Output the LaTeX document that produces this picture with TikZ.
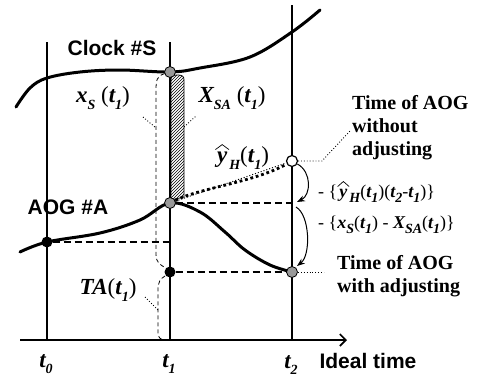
\documentclass[tikz,border=0pt]{standalone}
\usepackage{fontspec}
\setmainfont{Liberation Serif}
\setsansfont{Liberation Sans}
\usetikzlibrary{patterns,arrows.meta}
\newcommand\vi[1]{{\bfseries\itshape #1}}
\newcommand\sbx[1]{\raisebox{-0.3em}{\fontsize{14}{14}\selectfont\bfseries\itshape #1}}
\newcommand\hy{\tikz[baseline=0pt]{\node[inner sep=0pt,anchor=base] (hh) at (0,0) {\vi{y}}; \draw[line width=0.7pt] ([xshift=-1.5pt,yshift=2.5pt]hh.north west) -- ([yshift=7.5pt]hh.north) -- ([xshift=1.5pt,yshift=2.5pt]hh.north east);}}
\begin{document}
\begin{tikzpicture}[x=1pt,y=-1pt,
  vline/.style={line width=1.6pt},
  curve/.style={line width=3pt,line cap=round},
  gdot/.style={circle,draw,fill=black!40,minimum size=11pt,inner sep=0pt,line width=0.8pt},
  bdot/.style={circle,fill=black,minimum size=11pt,inner sep=0pt},
  odot/.style={circle,draw,fill=white,minimum size=11pt,inner sep=0pt,line width=1.2pt},
  hdash/.style={line width=1.3pt,dash pattern=on 7pt off 4pt},
  vdash/.style={line width=0.8pt,dash pattern=on 4pt off 3pt},
  leader/.style={line width=0.9pt,dotted},
  sanslab/.style={font=\sffamily\bfseries\fontsize{21}{24}\selectfont,inner sep=0pt},
  serlab/.style={font=\bfseries\fontsize{20}{23}\selectfont,align=left,inner sep=0pt},
  mathlab/.style={font=\fontsize{23}{25}\selectfont,inner sep=0pt},
  note/.style={font=\fontsize{18}{22}\selectfont,inner sep=0pt},
  arr/.style={line width=1pt,-{Stealth[length=8pt,width=6pt]}}
]
\useasboundingbox (0,0) rectangle (498,378);
% axes coordinates
\coordinate (t0top) at (47,42);
\coordinate (t0bot) at (47,340);
\coordinate (t1top) at (170,42);
\coordinate (t1bot) at (170,340);
\coordinate (t2top) at (292,5);
\coordinate (t2bot) at (292,340);
\coordinate (ax0) at (20,340);
\coordinate (ax1) at (347,340);
\draw[vline] (t0top) -- (t0bot);
\draw[vline] (t1top) -- (t1bot);
\draw[vline] (t2top) -- (t2bot);
\draw[vline,-{Straight Barb[length=6pt,width=12pt]}] (ax0) -- (ax1);

% curves
\draw[curve] plot[smooth,tension=0.6] coordinates {(16,107) (30,88) (47,78) (80,72) (120,70) (170,72) (200,68) (250,57) (292,32) (320,10)};
\draw[curve] plot[smooth,tension=0.6] coordinates {(20,252) (47,242) (100,233) (140,220) (170,203) (200,212) (225,232) (245,250) (270,265) (292,272)};

% hatched bar
\draw[line width=0.8pt,pattern=north east lines] (171,200) -- (171,80) .. controls (171,76) and (173,75) .. (177.5,75) .. controls (182,75) and (184,76) .. (184,80) -- (184,197) -- cycle;

% dots
\node[gdot] (sS) at (170,72) {};
\node[gdot] (sA) at (170,203) {};
\node[bdot] (c0) at (47,242) {};
\node[bdot] (bT) at (170,272) {};
\node[odot] (oW) at (292,161) {};
\node[gdot] (gA) at (292,272) {};

% dashed horizontals
\coordinate (h0) at (170,242);
\coordinate (h1) at (292,203);
\draw[hdash] (c0) -- (h0);
\draw[hdash] (sA) -- (h1);
\draw[hdash] (bT) -- (gA);

% dashed braces
\coordinate (d1) at (166,268);
\coordinate (d2) at (165,276);
\coordinate (d3) at (166,340);
\draw[vdash] (sS) .. controls (157,76) and (156,80) .. (156,90) -- (156,255) .. controls (156,262) and (160,265) .. (d1);
\draw[vdash] (d2) .. controls (160,279) and (158,282) .. (158,290) -- (158,333) .. controls (158,338) and (161,340) .. (d3);

% dotted prediction
\draw[line width=2.8pt,dash pattern=on 2.8pt off 2.8pt] (sA) .. controls (200,188) and (255,182) .. (oW);
\draw[line width=1pt,dotted] (sA) -- (oW);

% curved arrows
\coordinate (a1) at (297,202);
\coordinate (a2s) at (296,207);
\coordinate (a2) at (297,266);
\draw[arr] (oW) .. controls (312,172) and (311,195) .. (a1);
\draw[arr] (a2s) .. controls (310,215) and (311,255) .. (a2);

% labels
\node[sanslab] (clk) at (112,48) {Clock \#S};
\node[sanslab] (aog) at (68,207) {AOG \#A};
\node[sanslab] (ideal) at (368,361) {Ideal time};
\node[mathlab,anchor=base] (t0) at (46,367) {\vi{t}\sbx{0}};
\node[mathlab,anchor=base] (t1) at (169,367) {\vi{t}\sbx{1}};
\node[mathlab,anchor=base] (t2) at (291,368) {\vi{t}\sbx{2}};
\node[mathlab] (xs) at (103,98) {\vi{x}\sbx{S} (\vi{t}\sbx{1})};
\node[mathlab] (xsa) at (232,98) {\vi{X}\sbx{SA} (\vi{t}\sbx{1})};
\node[mathlab] (yh) at (242,157) {\hy\sbx{H}(\vi{t}\sbx{1})};
\node[mathlab] (ta) at (108,290) {\vi{TA}(\vi{t}\sbx{1})};
\node[serlab,anchor=west] (wo) at (352,128) {Time of AOG\\without\\adjusting};
\node[serlab,anchor=west] (wa) at (337,276) {Time of AOG\\with adjusting};
\node[note,anchor=west] (n1) at (318,192) {- \{\hy\sbx{H}(\vi{t}\sbx{1})(\vi{t}\sbx{2}-\vi{t}\sbx{1})\}};
\node[note,anchor=west] (n2) at (318,225) {- \{\vi{x}\sbx{S}(\vi{t}\sbx{1}) - \vi{X}\sbx{SA}(\vi{t}\sbx{1})\}};

% leaders
\coordinate (l1a) at (143,117);
\coordinate (l1b) at (156,128);
\draw[leader] (l1a) -- (l1b);
\coordinate (l2a) at (184,127);
\coordinate (l2b) at (196,116);
\draw[leader] (l2a) -- (l2b);
\coordinate (l3a) at (145,297);
\coordinate (l3b) at (158,310);
\draw[leader] (l3a) -- (l3b);
\coordinate (l4a) at (322,161);
\coordinate (l4b) at (350,131);
\draw[leader] (oW) -- (l4a) -- (l4b);
\coordinate (l5) at (324,272);
\draw[leader] (gA) -- (l5);
\end{tikzpicture}
\end{document}
